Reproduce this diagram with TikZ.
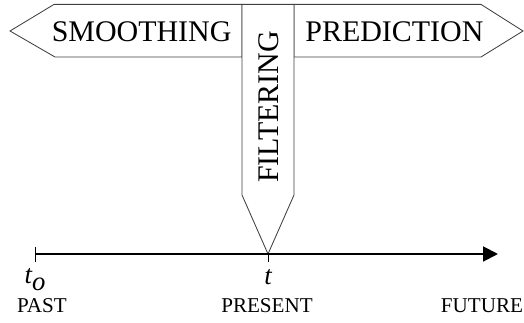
\documentclass[tikz,border=0pt]{standalone}
\usepackage{fontspec}
\setmainfont{Liberation Serif}
\usetikzlibrary{arrows.meta}

\begin{document}
\begin{tikzpicture}[
  outline/.style={draw=black!75, line width=0.6pt, fill=white},
  axis/.style={-{Triangle[length=3.7mm,width=3.7mm]}, line width=1.4pt},
  tick/.style={line width=0.6pt},
  big/.style={font=\fontsize{21.3}{24}\selectfont, inner sep=0pt},
  lab/.style={font=\fontsize{15}{17}\selectfont, inner sep=0pt},
  var/.style={font=\fontsize{19}{21}\selectfont\itshape, inner sep=0pt},
]
\useasboundingbox (0,0) rectangle (13.1,8.05);

% the three pointers
\draw[outline] (0.25,7.275) -- (1.35,7.94) -- (6.05,7.94) -- (6.05,6.625)
  -- (1.375,6.625) -- cycle;
\draw[outline] (7.35,7.94) -- (12.025,7.94) -- (13.075,7.275)
  -- (12.025,6.625) -- (7.35,6.625) -- cycle;
\draw[outline] (6.05,7.94) -- (7.35,7.94) -- (7.35,3.175) -- (6.7,1.7)
  -- (6.05,3.175) -- cycle;

\node[big] (smooth) at (3.54,7.265) {SMOOTHING};
\node[big] (pred) at (9.86,7.265) {PREDICTION};
\node[big, rotate=90] (filt) at (6.72,5.375) {FILTERING};

% time axis
\coordinate (past) at (0.875,1.7);
\coordinate (now) at (6.7,1.7);
\coordinate (future) at (12.45,1.7);
\draw[axis] (past) -- (future);
\draw[tick] ([yshift=1.75mm]past) -- ([yshift=-2mm]past);
\draw[tick] (now) -- ([yshift=-2mm]now);

\node[var] (t0) at (0.875,1.05) {t\raisebox{-5pt}{o}};
\node[var] (t) at (6.7,1.12) {t};
\node[lab] (pastlab) at (1.05,0.41) {PAST};
\node[lab] (nowlab) at (6.675,0.41) {PRESENT};
\node[lab] (futlab) at (12.05,0.41) {FUTURE};
\end{tikzpicture}
\end{document}
